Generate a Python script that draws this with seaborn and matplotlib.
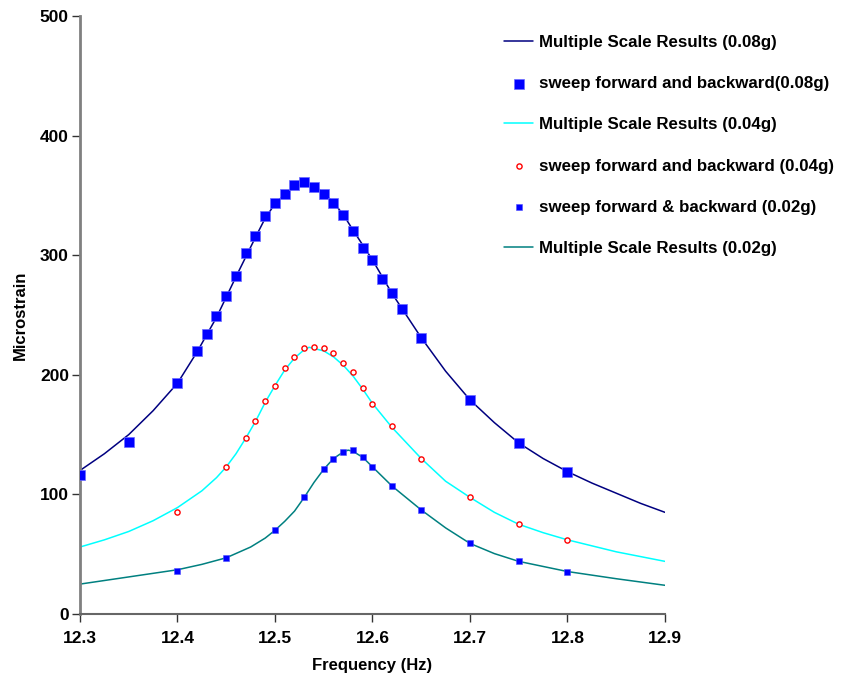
import matplotlib
matplotlib.use("Agg")
import matplotlib.pyplot as plt
import seaborn as sns

# ---- data ----
# Multiple Scale Results (theory curves)
curve08_x = [12.30, 12.325, 12.35, 12.375, 12.40, 12.42, 12.44, 12.46, 12.48, 12.49, 12.50, 12.51,
             12.52, 12.53, 12.54, 12.55, 12.56, 12.57, 12.58, 12.60, 12.62, 12.65, 12.675, 12.70,
             12.725, 12.75, 12.775, 12.80, 12.825, 12.85, 12.875, 12.90]
curve08_y = [120, 134, 150, 170, 193, 219, 248, 282, 315, 331, 343, 351,
             357, 360, 358, 352, 344, 334, 321, 296, 268, 231, 203, 179,
             160, 143, 130, 119, 109.5, 101, 92.5, 85]

curve04_x = [12.30, 12.325, 12.35, 12.375, 12.40, 12.425, 12.44, 12.45, 12.46, 12.47, 12.48, 12.49,
             12.50, 12.51, 12.52, 12.53, 12.535, 12.54, 12.55, 12.56, 12.57, 12.58, 12.59, 12.60,
             12.62, 12.65, 12.675, 12.70, 12.725, 12.75, 12.775, 12.80, 12.85, 12.90]
curve04_y = [56, 62, 69, 78, 89, 103, 114, 123, 134, 147, 161, 177,
             191, 204, 214, 221, 223, 222, 220, 215, 208, 199, 188, 176,
             156, 130, 111, 97.5, 85, 75, 68, 62, 52, 44]

curve02_x = [12.30, 12.35, 12.40, 12.425, 12.45, 12.475, 12.49, 12.50, 12.51, 12.52, 12.53, 12.54,
             12.55, 12.56, 12.57, 12.575, 12.58, 12.59, 12.60, 12.62, 12.65, 12.675, 12.70, 12.725,
             12.75, 12.80, 12.85, 12.90]
curve02_y = [25, 31, 37, 41.5, 47, 56, 63.5, 70, 77.5, 86, 97.5, 110,
             121, 130, 135.5, 137, 136, 131, 123, 107, 87, 72, 59, 50.5,
             44, 35.5, 29.5, 24]

# sweep forward and backward measurements
sweep08_x = [12.30, 12.35, 12.40, 12.42, 12.43, 12.44, 12.45, 12.46, 12.47, 12.48, 12.49, 12.50,
             12.51, 12.52, 12.53, 12.54, 12.55, 12.56, 12.57, 12.58, 12.59, 12.60, 12.61, 12.62,
             12.63, 12.65, 12.70, 12.75, 12.80]
sweep08_y = [116, 144, 193, 220, 234, 249, 266, 283, 302, 316, 333, 344,
             351, 359, 361, 357, 351, 344, 334, 320, 306, 296, 280, 268,
             255, 231, 179, 143, 119]

sweep04_x = [12.40, 12.45, 12.47, 12.48, 12.49, 12.50, 12.51, 12.52, 12.53, 12.54, 12.55, 12.56,
             12.57, 12.58, 12.59, 12.60, 12.62, 12.65, 12.70, 12.75, 12.80]
sweep04_y = [85, 123, 147, 161, 178, 191, 206, 215, 222, 223, 222, 218.5,
             210, 202, 189, 176, 157, 130, 97.5, 75, 62]

sweep02_x = [12.40, 12.45, 12.50, 12.53, 12.55, 12.56, 12.57, 12.58, 12.59, 12.60, 12.62, 12.65,
             12.70, 12.75, 12.80]
sweep02_y = [36, 47, 70, 97.5, 121, 130, 135.5, 137, 131, 123, 107, 87,
             59, 44, 35]

x_ticks = [12.3, 12.4, 12.5, 12.6, 12.7, 12.8, 12.9]
y_ticks = [0, 100, 200, 300, 400, 500]

sns.set_theme(style="white")
plt.rcParams['font.family'] = ['Liberation Sans', 'DejaVu Sans']
plt.rcParams['font.weight'] = 'bold'
plt.rcParams['text.color'] = 'black'
plt.rcParams['axes.labelcolor'] = 'black'
plt.rcParams['xtick.color'] = 'black'
plt.rcParams['ytick.color'] = 'black'

fig = plt.figure(figsize=(8.43, 6.81), dpi=100)
ax = fig.add_axes([80/843, 1-614/681, (665-80)/843, (614-16)/681])

sns.lineplot(x=curve08_x, y=curve08_y, ax=ax, color='#000080', lw=1.1,
             label='Multiple Scale Results (0.08g)', sort=False)
sns.scatterplot(x=sweep08_x, y=sweep08_y, ax=ax, marker='s', s=55, color='#0000FF',
                edgecolor='#6c6cff', linewidth=0.5,
                label='sweep forward and backward(0.08g)', zorder=3)
sns.lineplot(x=curve04_x, y=curve04_y, ax=ax, color='#00FFFF', lw=1.1,
             label='Multiple Scale Results (0.04g)', sort=False)
sns.scatterplot(x=sweep04_x, y=sweep04_y, ax=ax, marker='o', s=14, facecolor='white',
                edgecolor='#FF0000', linewidth=1.0,
                label='sweep forward and backward (0.04g)', zorder=3)
sns.scatterplot(x=sweep02_x, y=sweep02_y, ax=ax, marker='s', s=22, color='#0000FF',
                edgecolor='#5050ff', linewidth=0.4,
                label='sweep forward & backward (0.02g)', zorder=3)
sns.lineplot(x=curve02_x, y=curve02_y, ax=ax, color='#008080', lw=1.1,
             label='Multiple Scale Results (0.02g)', sort=False)

ax.set_xlim(12.3, 12.9)
ax.set_ylim(0, 500)
ax.set_xticks(x_ticks)
ax.set_xticklabels([f"{v:.1f}" for v in x_ticks], fontsize=12.5, fontweight='bold')
ax.set_yticks(y_ticks)
ax.set_yticklabels([str(v) for v in y_ticks], fontsize=12.5, fontweight='bold')
ax.tick_params(axis='x', direction='out', length=6, width=1, color='#333333',
               bottom=True, pad=6)
ax.tick_params(axis='y', direction='out', length=6, width=1, color='#333333',
               left=True, pad=2)
ax.set_xlabel('Frequency (Hz)', fontsize=12, fontweight='bold', labelpad=9)
ax.set_ylabel('Microstrain', fontsize=12, fontweight='bold', labelpad=9)

for s in ['top', 'right']:
    ax.spines[s].set_visible(False)
ax.spines['left'].set_color('#808080')
ax.spines['left'].set_linewidth(2)
ax.spines['bottom'].set_color('#666666')
ax.spines['bottom'].set_linewidth(1.5)

leg = ax.legend(loc='upper left', bbox_to_anchor=(497/843, 1-28/681), bbox_transform=fig.transFigure,
                frameon=False, fontsize=12.2, labelspacing=1.55, handlelength=1.75,
                handletextpad=0.35, borderaxespad=0)
for t in leg.get_texts():
    t.set_fontweight('bold')

fig.savefig('out.png', dpi=100, facecolor='white')
